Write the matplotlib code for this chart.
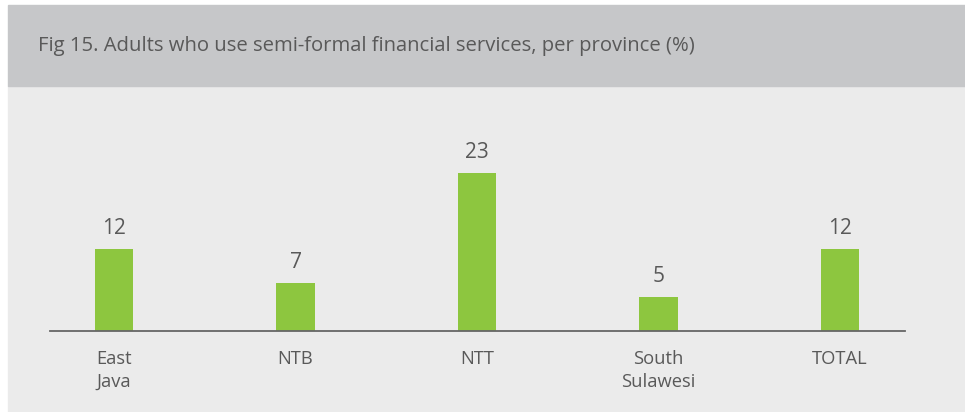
import matplotlib.pyplot as plt
from matplotlib.patches import Rectangle

# data
provinces = ["East\nJava", "NTB", "NTT", "South\nSulawesi", "TOTAL"]
values = [12, 7, 23, 5, 12]
title = "Fig 15. Adults who use semi-formal financial services, per province (%)"

green = "#8dc63f"
text_col = "#595959"

plt.rcParams['font.family'] = ['Open Sans', 'DejaVu Sans']

fig = plt.figure(figsize=(9.65, 4.12), dpi=100, facecolor="white")

# backgrounds
fig.patches.append(Rectangle((8 / 965, 0), 1 - 8 / 965, 1 - 86 / 412,
                             transform=fig.transFigure, color="#ebebeb", zorder=-2))
fig.patches.append(Rectangle((8 / 965, 1 - 86 / 412), 1 - 8 / 965, 81 / 412,
                             transform=fig.transFigure, color="#c6c7c9", zorder=-2))
fig.text(38 / 965, 1 - 46 / 412, title, fontsize=14.6, color=text_col, va="center", ha="left")

ax = fig.add_axes([50 / 965, 1 - 331 / 412, 855 / 965, 201 / 412])
ax.set_facecolor("none")

x = range(len(provinces))
bars = ax.bar(x, values, width=0.21, color=green, zorder=2)
for xi, v in zip(x, values):
    ax.annotate(str(v), (xi, v), xytext=(0, 7), textcoords="offset points",
                ha="center", va="bottom", fontsize=15, color=text_col)

ax.set_xlim(-0.353, 4.358)
ax.set_ylim(0, 29.3)
ax.set_xticks(list(x))
ax.set_xticklabels(provinces, fontsize=13.2, color=text_col, linespacing=1.3)
ax.tick_params(axis="x", length=0, pad=14)
ax.set_yticks([])
for s in ["top", "right", "left"]:
    ax.spines[s].set_visible(False)
ax.spines["bottom"].set_color("#666666")
ax.spines["bottom"].set_linewidth(1.3)

fig.savefig("out.png", dpi=100, facecolor=fig.get_facecolor())
